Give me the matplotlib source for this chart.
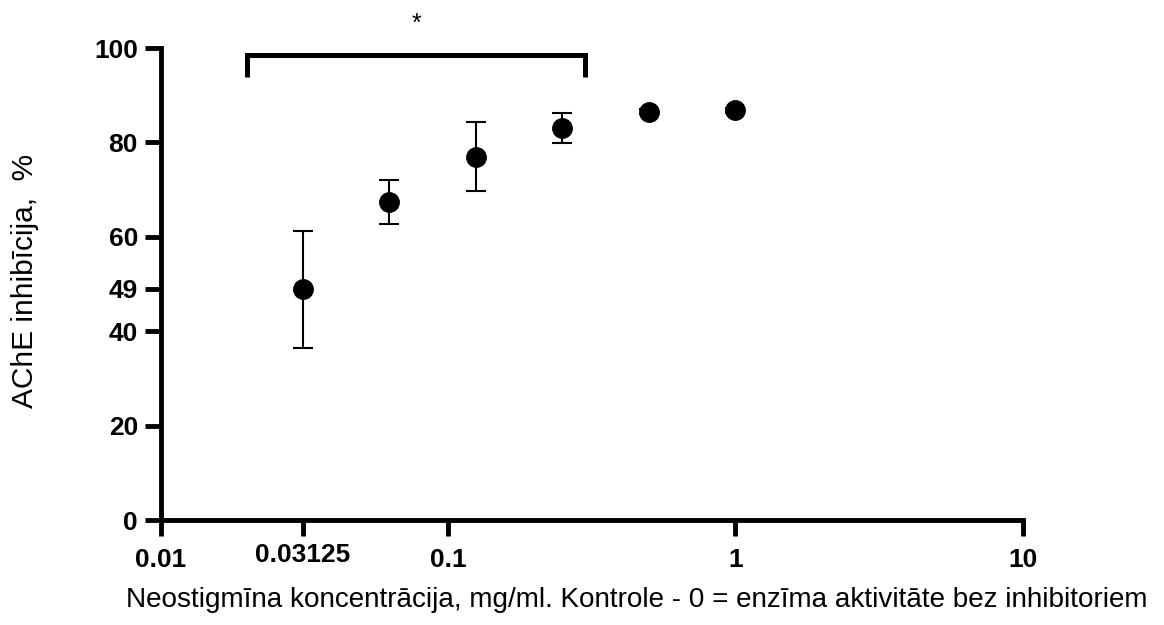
import numpy as np
import matplotlib
matplotlib.use('Agg')
import matplotlib.pyplot as plt

# Neostigmine concentration (mg/ml) vs AChE inhibition (%)
conc = [0.03125, 0.0625, 0.125, 0.25, 0.5, 1.0]
inhib = [48.9, 67.4, 77.0, 83.1, 86.5, 86.8]
inhib_err = [12.4, 4.7, 7.3, 3.2, 0.5, 0.5]

x_major = [0.01, 0.1, 1, 10]
x_major_labels = ['0.01', '0.1', '1', '10']
x_extra = [0.03125]
x_extra_labels = ['0.03125']
y_ticks = [0, 20, 40, 49, 60, 80, 100]

# significance bracket
bracket_x = [0.02, 0.3]
bracket_top = 98.6
bracket_bottom = 93.9

plt.rcParams['font.family'] = ['Liberation Sans', 'DejaVu Sans']

fig = plt.figure(figsize=(11.64, 6.25), dpi=100)
ax = fig.add_axes([0.138, 0.168, 0.7405, 0.7552])

ax.errorbar(conc, inhib, yerr=inhib_err, fmt='o', color='black',
            markersize=14, elinewidth=1.5, capsize=7, capthick=1.5,
            clip_on=False, zorder=3)

ax.set_xscale('log')
ax.set_xlim(0.01, 10)
ax.set_ylim(0, 100)

ax.set_xticks(x_major, labels=x_major_labels)
ax.set_xticks(x_extra, labels=x_extra_labels, minor=True)
ax.set_yticks(y_ticks)

for lab in ax.get_xticklabels() + ax.get_xticklabels(minor=True) + ax.get_yticklabels():
    lab.set_fontweight('bold')

ax.tick_params(axis='both', which='both', direction='out', length=11.3,
               width=3.5, labelsize=19, color='black')
ax.tick_params(axis='x', which='major', pad=8.6)
ax.tick_params(axis='x', which='minor', pad=5.6)
ax.tick_params(axis='y', pad=5)

for side in ['top', 'right']:
    ax.spines[side].set_visible(False)
for side in ['left', 'bottom']:
    ax.spines[side].set_linewidth(3.5)

ax.set_xlabel('Neostigmīna koncentrācija, mg/ml. Kontrole - 0 = enzīma aktivitāte bez inhibitoriem',
              fontsize=20.1, va='baseline')
ax.set_ylabel('AChE inhibīcija,  %', fontsize=21.5, va='baseline')
ax.xaxis.set_label_coords(0.5526, -0.1845)
ax.yaxis.set_label_coords(-0.148, 0.506)

# bracket with star
ax.plot([bracket_x[0], bracket_x[0], bracket_x[1], bracket_x[1]],
        [bracket_bottom, bracket_top, bracket_top, bracket_bottom],
        color='black', linewidth=3.6, solid_joinstyle='miter',
        solid_capstyle='butt', clip_on=False)
ax.text(np.sqrt(bracket_x[0] * bracket_x[1]), 103.6, '*', fontsize=18,
        ha='center', va='baseline')

plt.savefig('out.png', dpi=100)
